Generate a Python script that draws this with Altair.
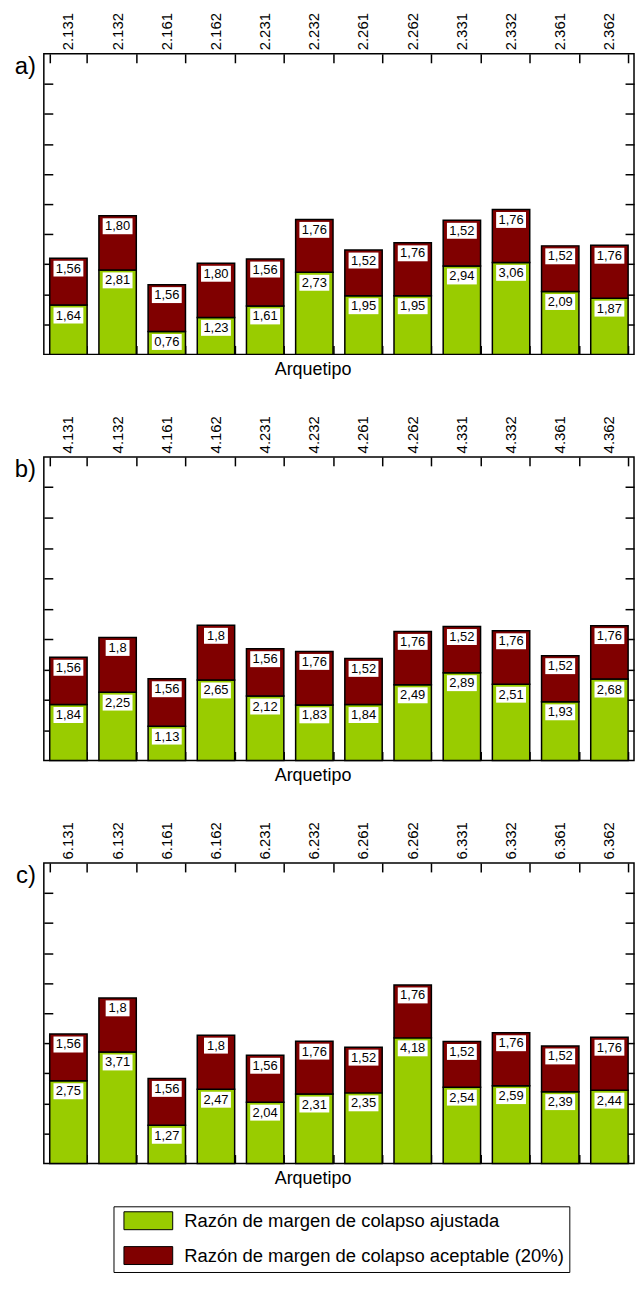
import altair as alt
import pandas as pd

FONT = "Liberation Sans"

SERIES = ["Razón de margen de colapso ajustada",
          "Razón de margen de colapso aceptable (20%)"]
COLORS = ["#99cc00", "#800000"]

cats_a = ["2.131", "2.132", "2.161", "2.162", "2.231", "2.232",
          "2.261", "2.262", "2.331", "2.332", "2.361", "2.362"]
adj_a = [1.64, 2.81, 0.76, 1.23, 1.61, 2.73, 1.95, 1.95, 2.94, 3.06, 2.09, 1.87]
acc_a = [1.56, 1.80, 1.56, 1.80, 1.56, 1.76, 1.52, 1.76, 1.52, 1.76, 1.52, 1.76]
adj_lab_a = ["1,64", "2,81", "0,76", "1,23", "1,61", "2,73",
             "1,95", "1,95", "2,94", "3,06", "2,09", "1,87"]
acc_lab_a = ["1,56", "1,80", "1,56", "1,80", "1,56", "1,76",
             "1,52", "1,76", "1,52", "1,76", "1,52", "1,76"]

cats_b = ["4.131", "4.132", "4.161", "4.162", "4.231", "4.232",
          "4.261", "4.262", "4.331", "4.332", "4.361", "4.362"]
adj_b = [1.84, 2.25, 1.13, 2.65, 2.12, 1.83, 1.84, 2.49, 2.89, 2.51, 1.93, 2.68]
acc_b = [1.56, 1.8, 1.56, 1.8, 1.56, 1.76, 1.52, 1.76, 1.52, 1.76, 1.52, 1.76]
adj_lab_b = ["1,84", "2,25", "1,13", "2,65", "2,12", "1,83",
             "1,84", "2,49", "2,89", "2,51", "1,93", "2,68"]
acc_lab_b = ["1,56", "1,8", "1,56", "1,8", "1,56", "1,76",
             "1,52", "1,76", "1,52", "1,76", "1,52", "1,76"]

cats_c = ["6.131", "6.132", "6.161", "6.162", "6.231", "6.232",
          "6.261", "6.262", "6.331", "6.332", "6.361", "6.362"]
adj_c = [2.75, 3.71, 1.27, 2.47, 2.04, 2.31, 2.35, 4.18, 2.54, 2.59, 2.39, 2.44]
acc_c = [1.56, 1.8, 1.56, 1.8, 1.56, 1.76, 1.52, 1.76, 1.52, 1.76, 1.52, 1.76]
adj_lab_c = ["2,75", "3,71", "1,27", "2,47", "2,04", "2,31",
             "2,35", "4,18", "2,54", "2,59", "2,39", "2,44"]
acc_lab_c = ["1,56", "1,8", "1,56", "1,8", "1,56", "1,76",
             "1,52", "1,76", "1,52", "1,76", "1,52", "1,76"]

Y_TICKS = [1, 2, 3, 4, 5, 6, 7, 8, 9]
W = 593


def table(cats, adj, acc, adj_lab, acc_lab):
    rows = []
    for i, c in enumerate(cats):
        rows.append({"arq": c, "serie": SERIES[0], "ord": 0, "val": adj[i], "lab": adj_lab[i]})
        rows.append({"arq": c, "serie": SERIES[1], "ord": 1, "val": acc[i], "lab": acc_lab[i]})
    return pd.DataFrame(rows)


def panel(df, cats, tag, h, legend):
    base = alt.Chart(df).transform_stack(
        stack="val", groupby=["arq"], sort=[alt.SortField("ord", order="ascending")],
        as_=["v0", "v1"])
    xs = alt.Scale(domain=cats, paddingInner=0.24, paddingOuter=0.12)
    ys = alt.Scale(domain=[0, 10], nice=False, zero=True)

    bars = base.mark_bar(stroke="black", strokeWidth=1.5).encode(
        x=alt.X("arq:N", scale=xs, sort=cats,
                axis=alt.Axis(orient="top", title=None, labelAngle=-90, labelFontSize=15,
                              ticks=False, tickSize=0, domain=False, labelPadding=4,
                              labelColor="black")),
        y=alt.Y("v1:Q", scale=ys,
                axis=alt.Axis(orient="left", title=None, labels=False, domain=False,
                              values=Y_TICKS, tickSize=9, offset=-9, grid=False,
                              minExtent=0, maxExtent=9)),
        y2="v0:Q",
        color=alt.Color("serie:N", scale=alt.Scale(domain=SERIES, range=COLORS),
                        legend=legend),
    )

    box4 = base.transform_filter("length(datum.lab) > 3").mark_bar(
        color="white", width=30, yOffset=2.5, y2Offset=18.5).encode(
        x=alt.X("arq:N", scale=xs, sort=cats,
                axis=alt.Axis(orient="top", labels=False, title=None, domain=False,
                              tickBand="extent", tickSize=9, offset=-9)),
        y=alt.Y("v1:Q", scale=ys, axis=None),
        y2="v1:Q",
    )
    box3 = base.transform_filter("length(datum.lab) <= 3").mark_bar(
        color="white", width=24, yOffset=2.5, y2Offset=18.5).encode(
        x=alt.X("arq:N", scale=xs, sort=cats, axis=None),
        y=alt.Y("v1:Q", scale=ys, axis=None),
        y2="v1:Q",
    )
    # right-hand inward ticks: a left-oriented axis moved to the right edge
    txt = base.mark_text(fontSize=13, yOffset=10.5, baseline="middle", color="black").encode(
        x=alt.X("arq:N", scale=xs, sort=cats,
                axis=alt.Axis(orient="bottom", labels=False, domain=False, tickBand="extent",
                              tickSize=9, offset=-9, title="Arquetipo", titleFontSize=18,
                              titleFontWeight="normal", titlePadding=5, titleX=270,
                              titleAlign="center", titleColor="black")),
        y=alt.Y("v1:Q", scale=ys,
                axis=alt.Axis(orient="left", labels=False, domain=False, values=Y_TICKS,
                              tickSize=9, offset=-W, title=None, grid=False,
                              minExtent=0, maxExtent=9)),
        text="lab:N",
    )
    tag_mark = alt.Chart(pd.DataFrame({"t": [tag]})).mark_text(
        align="right", baseline="top", fontSize=24, x=-8, y=1, color="black"
    ).encode(text="t:N")
    return alt.layer(bars, box4, box3, txt, tag_mark).resolve_axis(
        x="independent", y="independent").properties(width=W, height=h)


legend_c = alt.Legend(
    orient="none", legendX=70, legendY=345, direction="vertical", title=None,
    symbolType="M-0.444,-1H5V1H-0.444Z", symbolSize=324, symbolStrokeColor="black",
    symbolStrokeWidth=1, symbolOpacity=1, labelFontSize=18.5, labelOffset=47,
    rowPadding=12, padding=5, strokeColor="black", fillColor="white",
    labelLimit=0, labelColor="black")

pa = panel(table(cats_a, adj_a, acc_a, adj_lab_a, acc_lab_a), cats_a, "a)", 302, None)
pb = panel(table(cats_b, adj_b, acc_b, adj_lab_b, acc_lab_b), cats_b, "b)", 305, None)
pc = panel(table(cats_c, adj_c, acc_c, adj_lab_c, acc_lab_c), cats_c, "c)", 302, legend_c)

chart = alt.vconcat(pa, pb, pc, spacing=103, bounds="flush").resolve_scale(
    color="independent").resolve_legend(color="independent").properties(
    padding={"left": 5, "top": 0, "right": 0, "bottom": 0}
).configure(font=FONT).configure_view(
    stroke="black", strokeWidth=1.5
).configure_axis(tickColor="black", tickWidth=1.5, labelFont=FONT, titleFont=FONT)

chart.save("out.html", embed_options={"renderer": "svg", "actions": False})
